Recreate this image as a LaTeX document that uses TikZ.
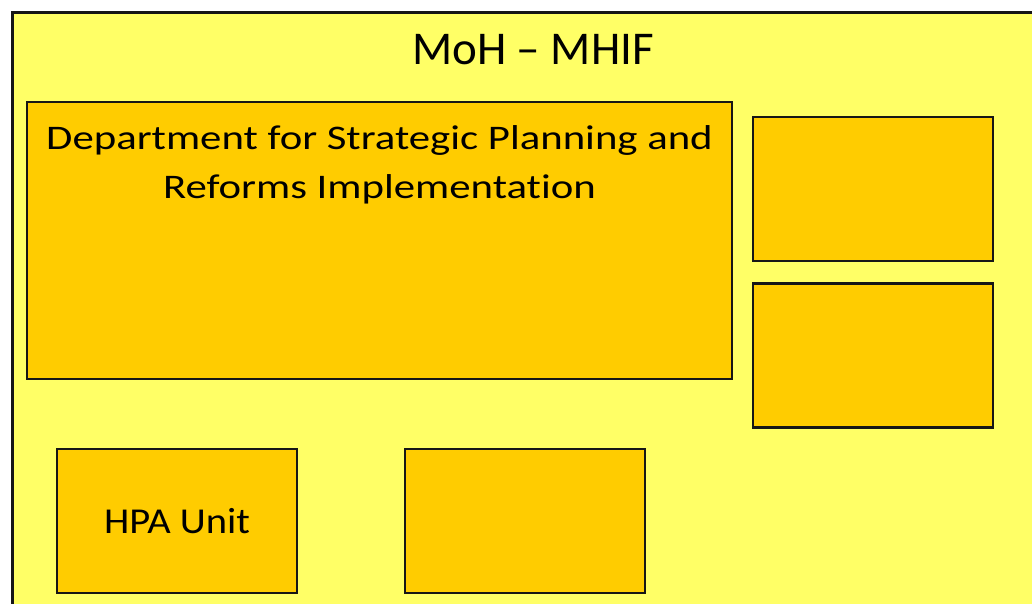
\documentclass[tikz,border=0pt]{standalone}
\usepackage{fontspec}
\setmainfont{Carlito}[Ligatures=NoCommon]
\usetikzlibrary{positioning}
\definecolor{paleyellow}{HTML}{FFFF66}
\definecolor{gold}{HTML}{FFCC00}
\definecolor{edge}{HTML}{161616}

\begin{document}
\begin{tikzpicture}[x=1pt,y=-1pt,
			unit/.style={draw=edge, line width=2.6pt, fill=gold, rectangle,
				inner sep=0pt, minimum width=240pt, minimum height=144pt},
			label text/.style={font=\fontsize{34.5}{49}\selectfont\addfontfeature{FakeStretch=1.24},
				align=center, inner sep=0pt}]
			% page and ministry frame (runs off the right and bottom edges)
			\fill[white] (0,0) rectangle (1032,603);
			\clip (0,0) rectangle (1032,603);
			\draw[draw=edge, line width=3pt, fill=paleyellow] (12,12) rectangle (1050,620);
			\node[inner sep=0pt, font=\fontsize{47}{56}\selectfont]
				(title) at (533,50) {MoH -- MHIF};
			% department
			\node[unit, minimum width=705pt, minimum height=277pt] (dept) at (379.5,240.5) {};
			\node[label text, below=25pt of dept.north] (deptname)
				{Department for Strategic Planning and\\Reforms Implementation};
			% right column
			\node[unit] (right1) at (873,189) {};
			\node[unit, below=20pt of right1] (right2) {};
			% bottom row
			\node[unit, font=\fontsize{36.5}{43}\selectfont\addfontfeature{FakeStretch=1.11}]
				(hpa) at (177,521) {HPA Unit};
			\node[unit] (bottom2) at (525,521) {};
		\end{tikzpicture}
\end{document}
